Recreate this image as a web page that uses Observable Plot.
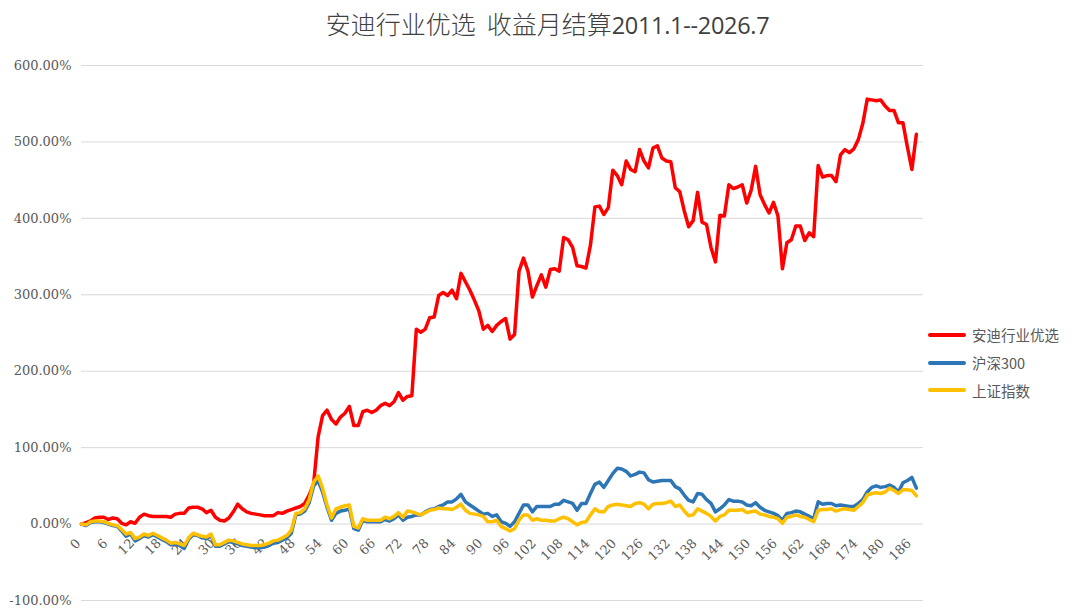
<!DOCTYPE html>
<html>
<head>
<meta charset="utf-8">
<script src="https://cdn.jsdelivr.net/npm/d3@7"></script>
<script src="https://cdn.jsdelivr.net/npm/@observablehq/plot@0.6"></script>
<style>
  html, body { margin: 0; padding: 0; background: #fff; }
  #wrap { position: relative; width: 1080px; height: 608px; overflow: hidden; }
  #title { position: absolute; left: 0; width: 1095px; top: 8px; text-align: center; white-space: pre;
           font-family: "Noto Sans CJK SC", "Noto Sans", sans-serif; font-weight: 300;
           font-size: 25px; line-height: 30px; color: #404040; }
  #title .lat { font-family: "Open Sans", "Noto Sans", sans-serif; font-weight: 400; font-size: 23.5px; letter-spacing: -0.3px; }
  #legend { position: absolute; left: 928px; top: 321px;
            font-family: "Noto Sans CJK SC", "Noto Sans", sans-serif; font-size: 14.5px; color: #595959; }
  .row { display: flex; align-items: center; height: 27.8px; }
  .sw { width: 38px; height: 4px; border-radius: 2px; margin-right: 6px; }
</style>
</head>
<body>
<div id="wrap">
  <div id="title">安迪行业优选  收益月结算<span class="lat">2011.1--2026.7</span></div>
  <div id="legend"></div>
</div>
<script>
const seriesNames = ["安迪行业优选", "沪深300", "上证指数"];
const seriesColors = ["#FF0000", "#2E75B6", "#FFC000"];

// 安迪行业优选 (%), months 0..187
const andi = [
  0, 2, 4, 8, 9, 9, 6, 8, 7, 1,
  -1, 3, 1, 9, 13, 11, 10, 10, 10, 10,
  9, 13, 14, 14, 21, 22, 22, 20, 15, 18,
  9, 5, 4, 8, 16, 26, 20, 16, 14, 13,
  12, 11, 11, 11, 15, 14, 17, 19, 21, 23,
  27, 38, 53, 114, 142, 149, 137, 131, 140, 145,
  154, 129, 129, 147, 149, 146, 149, 155, 158, 155,
  160, 172, 162, 167, 168, 255, 251, 255, 270, 271,
  299, 303, 299, 306, 295, 328, 317, 306, 293, 279,
  255, 260, 252, 260, 265, 269, 242, 248, 331, 348,
  331, 297, 312, 326, 310, 333, 334, 331, 375, 372,
  362, 338, 337, 335, 365, 415, 416, 405, 414, 463,
  456, 444, 475, 464, 461, 490, 475, 466, 492, 495,
  479, 475, 474, 440, 435, 410, 389, 397, 434, 395,
  392, 362, 343, 404, 403, 444, 439, 441, 444, 420,
  437, 468, 431, 418, 407, 421, 403, 334, 368, 372,
  390, 390, 371, 381, 376, 469, 454, 456, 456, 448,
  483, 490, 486, 491, 503, 524, 556, 555, 554, 555,
  547, 541, 541, 525, 525, 493, 464, 510
];

// 沪深300 (%)
const hs300 = [
  0, -2, 2, 3, 3, 2, 0, -2, -3, -9,
  -16, -13, -22, -19, -15, -17, -14, -17, -20, -23,
  -27, -26, -28, -32, -20, -14, -15, -18, -19, -15,
  -29, -29, -26, -23, -24, -26, -28, -29, -30, -31,
  -31, -30, -28, -25, -24, -21, -18, -12, 12, 13,
  17, 28, 50, 57, 42, 22, 5, 14, 17, 18,
  20, -6, -8, 5, 3, 3, 3, 3, 6, 4,
  7, 12, 5, 9, 10, 12, 12, 16, 19, 20,
  23, 25, 29, 29, 33, 39, 29, 25, 21, 17,
  13, 14, 10, 12, 3, 1, -3, 3, 14, 25,
  25, 16, 23, 23, 23, 23, 26, 26, 31, 29,
  27, 18, 27, 27, 40, 52, 55, 48, 57, 66,
  73, 72, 69, 63, 65, 68, 67, 58, 55, 56,
  57, 57, 57, 49, 46, 38, 31, 29, 40, 39,
  32, 27, 16, 20, 25, 32, 30, 30, 29, 25,
  24, 28, 22, 18, 16, 14, 11, 5, 14, 15,
  17, 16, 13, 10, 7, 29, 26, 27, 27, 24,
  25, 24, 23, 23, 27, 32, 42, 48, 50, 48,
  49, 51, 48, 42, 54, 57, 61, 47
];

// 上证指数 (%)
const szzs = [
  0, -1, 3, 4, 4, 3, 1, -1, -2, -7,
  -13, -11, -19, -17, -13, -15, -12, -15, -18, -21,
  -25, -24, -26, -28, -18, -12, -14, -16, -17, -13,
  -27, -27, -24, -21, -22, -24, -26, -27, -28, -28,
  -28, -27, -25, -22, -21, -18, -15, -8, 14, 15,
  20, 32, 55, 63, 47, 25, 8, 20, 22, 24,
  25, -3, -5, 7, 5, 5, 5, 5, 9, 7,
  10, 15, 9, 17, 16, 14, 12, 15, 18, 19,
  21, 20, 20, 19, 22, 26, 18, 14, 13, 12,
  10, 3, 3, 5, -3, -6, -9, -6, 5, 12,
  12, 5, 7, 5, 5, 4, 4, 7, 9, 7,
  3, -1, 2, 3, 12, 20, 16, 16, 23, 25,
  26, 25, 24, 23, 27, 28, 26, 20, 26, 27,
  27, 28, 30, 23, 25, 17, 11, 12, 20, 17,
  14, 10, 4, 10, 12, 18, 18, 18, 19, 15,
  16, 17, 13, 12, 10, 9, 7, 1, 9, 10,
  12, 10, 9, 6, 3, 18, 19, 19, 20, 17,
  19, 20, 19, 18, 23, 28, 38, 40, 41, 40,
  42, 47, 44, 40, 45, 45, 44, 37
];

const xTicks = d3.range(0, 187, 6);
const yTicks = [-100, 0, 100, 200, 300, 400, 500, 600];

const seriesValues = [andi, hs300, szzs];
const rows = seriesValues.flatMap((vals, s) =>
  vals.map((v, i) => ({month: i, value: v, series: seriesNames[s]})));

const chart = Plot.plot({
  width: 1080,
  height: 608,
  marginLeft: 81,
  marginRight: 157,
  marginTop: 65,
  marginBottom: 8,
  style: {fontFamily: "'DejaVu Serif', serif", fontSize: "13px", color: "#595959", background: "transparent"},
  x: {domain: [0, 188.6], axis: null},
  y: {domain: [-100, 600], axis: null},
  color: {domain: seriesNames, range: seriesColors},
  marks: [
    Plot.gridY(yTicks, {stroke: "#d9d9d9", strokeOpacity: 1, strokeWidth: 1}),
    Plot.axisY(yTicks, {tickSize: 0, tickPadding: 10, label: null,
      tickFormat: d => d.toFixed(2) + "%", fill: "#595959"}),
    Plot.text(xTicks, {x: d => d, y: () => 0, text: d => String(d), rotate: -45,
      textAnchor: "end", dx: -3, dy: 17, fill: "#595959", fontSize: 13}),
    Plot.line(rows, {x: "month", y: "value", z: "series", stroke: "series",
      strokeWidth: 3.5, strokeLinejoin: "round", strokeLinecap: "round", curve: "linear"})
  ]
});

const wrap = document.getElementById("wrap");
chart.style.position = "absolute";
chart.style.left = "0px";
chart.style.top = "0px";
wrap.insertBefore(chart, wrap.firstChild);

const legend = document.getElementById("legend");
seriesNames.forEach((name, k) => {
  const row = document.createElement("div");
  row.className = "row";
  const sw = document.createElement("div");
  sw.className = "sw";
  sw.style.background = seriesColors[k];
  const label = document.createElement("span");
  label.textContent = name;
  row.appendChild(sw);
  row.appendChild(label);
  legend.appendChild(row);
});
</script>
</body>
</html>
